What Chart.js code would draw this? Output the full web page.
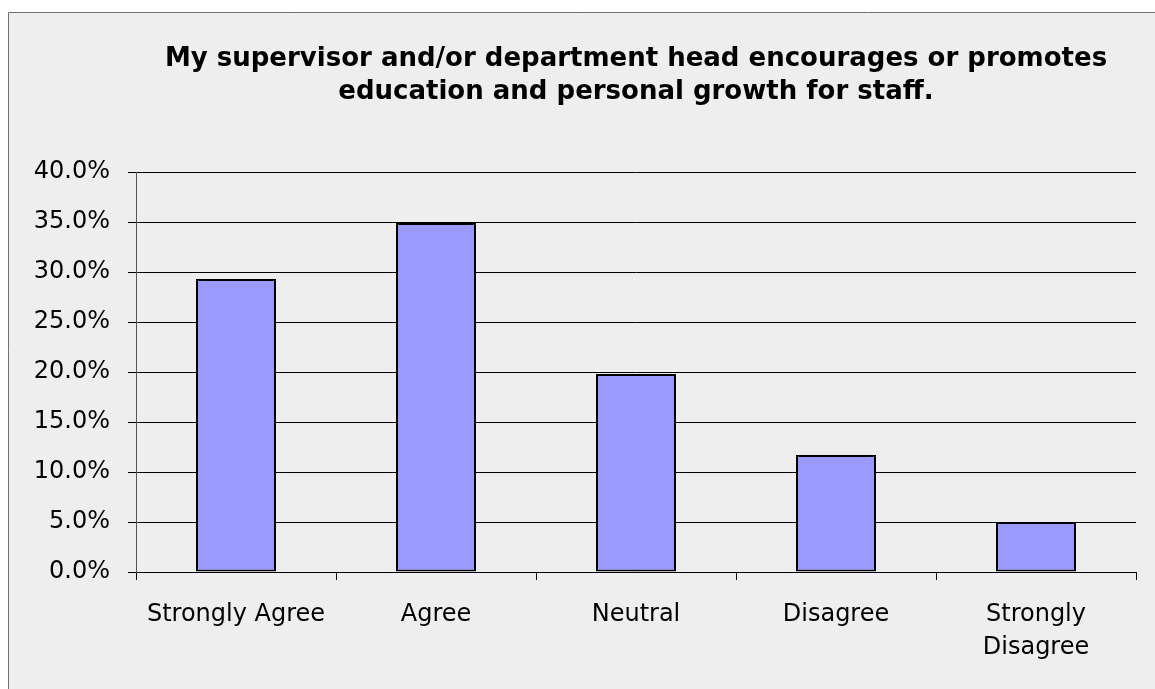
<!DOCTYPE html>
<html>
<head>
<meta charset="utf-8">
<script src="https://cdn.jsdelivr.net/npm/chart.js@4/dist/chart.umd.min.js"></script>
<style>
    body { margin: 0; background: #fff; overflow: hidden; }
    #wrap { position: absolute; left: 0; top: 0; width: 1155px; height: 689px; }
</style>
</head>
<body>
<div id="wrap"><canvas id="surveyChart"></canvas></div>
<script>
// survey answers (percent of staff)
const categories = ['Strongly Agree', 'Agree', 'Neutral', 'Disagree', ['Strongly', 'Disagree']];
const responses = [29.3, 34.9, 19.8, 11.7, 5.0];
const titleLines = ['My supervisor and/or department head encourages or promotes',
    'education and personal growth for staff.'];
const yMax = 40;
const yStep = 5;

// grey frame behind the chart, like the old spreadsheet export
const framePlugin = {
    id: 'frame',
    beforeDraw(chart) {
        const ctx = chart.ctx;
        ctx.save();
        ctx.fillStyle = '#eeeeee';
        ctx.fillRect(8, 12, chart.width - 8, chart.height - 12);
        ctx.strokeStyle = '#707070';
        ctx.lineWidth = 1;
        ctx.beginPath();
        ctx.moveTo(8.5, chart.height);
        ctx.lineTo(8.5, 12.5);
        ctx.lineTo(chart.width, 12.5);
        ctx.stroke();
        ctx.restore();
    }
};

const ctx = document.getElementById('surveyChart').getContext('2d');
new Chart(ctx, {
    type: 'bar',
    data: {
        labels: categories,
        datasets: [{
            data: responses,
            backgroundColor: '#9999ff',
            borderColor: '#000000',
            borderWidth: 2,
            borderSkipped: false,
            barPercentage: 0.4,
            categoryPercentage: 1.0
        }]
    },
    options: {
        responsive: true,
        maintainAspectRatio: false,
        animation: false,
        layout: {
            padding: { left: 0, right: 19, top: 0, bottom: 0 }
        },
        plugins: {
            legend: { display: false },
            tooltip: { enabled: false },
            title: {
                display: true,
                text: titleLines,
                fullSize: false,
                color: '#000',
                font: { family: '"DejaVu Sans", sans-serif', size: 26, weight: 'bold', lineHeight: 1.25 },
                padding: { top: 43, bottom: 64 }
            }
        },
        scales: {
            x: {
                afterFit: function(scale) { scale.height = 117; },
                grid: {
                    offset: true,
                    drawOnChartArea: false,
                    drawTicks: true,
                    tickLength: 8,
                    color: '#000'
                },
                border: { color: '#000', width: 1 },
                ticks: {
                    color: '#000',
                    maxRotation: 0,
                    autoSkip: false,
                    padding: 19,
                    font: { family: '"DejaVu Sans", sans-serif', size: 24, lineHeight: 1.35 }
                }
            },
            y: {
                min: 0,
                max: yMax,
                afterFit: function(scale) { scale.width = 136; },
                grid: {
                    color: '#000',
                    tickLength: 8,
                    lineWidth: 1
                },
                border: { color: '#555', width: 1 },
                ticks: {
                    stepSize: yStep,
                    color: '#000',
                    padding: 18,
                    font: { family: '"DejaVu Sans", sans-serif', size: 24 },
                    callback: function(value) {
                        return value.toFixed(1) + '%';
                    }
                }
            }
        }
    },
    plugins: [framePlugin]
});
</script>
</body>
</html>
